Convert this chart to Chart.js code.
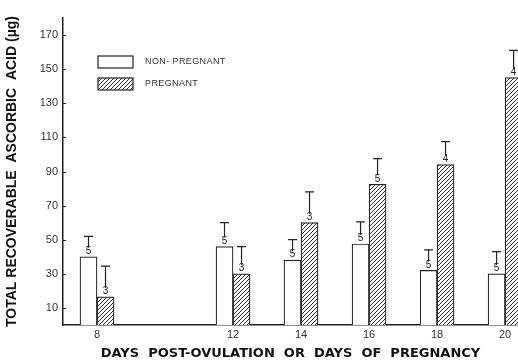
<!DOCTYPE html>
<html>
<head>
<meta charset="utf-8">
<script src="https://cdn.jsdelivr.net/npm/chart.js@4.4.1/dist/chart.umd.min.js"></script>
<style>
  html, body { margin: 0; padding: 0; background: #fff; }
  #wrap { width: 518px; height: 364px; }
</style>
</head>
<body>
<div id="wrap"><canvas id="c" width="518" height="364"></canvas></div>
<script>
// Days at which measurements were taken
const days = [8, 12, 14, 16, 18, 20];
// Mean total recoverable ascorbic acid (µg)
const nonPregnant = [40, 46, 38, 47.5, 32, 30];
const pregnant = [16.5, 30, 60, 82.5, 94, 145];
// Upper error bar length (µg)
const nonPregnantErr = [12, 14, 12, 13, 12, 13];
const pregnantErr = [18, 16, 18, 15, 13.5, 16];
// Number of animals per group
const nonPregnantN = [5, 5, 5, 5, 5, 5];
const pregnantN = [3, 3, 3, 5, 4, 4];
// Axis ticks
const xTicks = [8, 12, 14, 16, 18, 20];
const yTicks = [10, 30, 50, 70, 90, 110, 130, 150, 170];
const seriesNames = ['NON- PREGNANT', 'PREGNANT'];

const FONT = '"Liberation Sans", Arial, sans-serif';
const HEAVY = '"DejaVu Sans", "Liberation Sans", sans-serif';

function hatchPattern() {
  const s = 4;
  const c = document.createElement('canvas');
  c.width = s; c.height = s;
  const g = c.getContext('2d');
  g.fillStyle = '#fff';
  g.fillRect(0, 0, s, s);
  g.strokeStyle = '#333';
  g.lineWidth = 1;
  g.beginPath();
  g.moveTo(-1, s + 1); g.lineTo(s + 1, -1);
  g.moveTo(-1, 1); g.lineTo(1, -1);
  g.moveTo(s - 1, s + 1); g.lineTo(s + 1, s - 1);
  g.stroke();
  return g.createPattern(c, 'repeat');
}
const hatch = hatchPattern();

const toPoints = (vals) => vals.map((v, i) => ({ x: days[i], y: v }));

// Error bars with group sizes, inside-axis tick marks and the key
const annotate = {
  id: 'annotate',
  afterDatasetsDraw(chart) {
    const ctx = chart.ctx;
    const yScale = chart.scales.y;
    const errs = [nonPregnantErr, pregnantErr];
    const ns = [nonPregnantN, pregnantN];
    ctx.save();
    chart.data.datasets.forEach((ds, di) => {
      const meta = chart.getDatasetMeta(di);
      meta.data.forEach((bar, i) => {
        const x = bar.x;
        const top = bar.y;
        const cap = yScale.getPixelForValue(ds.data[i].y + errs[di][i]);
        ctx.fillStyle = '#222';
        ctx.font = '10px ' + FONT;
        ctx.textAlign = 'center';
        ctx.textBaseline = 'bottom';
        ctx.fillText(String(ns[di][i]), x, top - 0.5);
        const stemBottom = top - 9;
        ctx.strokeStyle = '#222';
        ctx.lineWidth = 1.2;
        ctx.beginPath();
        ctx.moveTo(x, Math.max(stemBottom, cap));
        ctx.lineTo(x, cap);
        ctx.moveTo(x - 4.5, cap);
        ctx.lineTo(x + 4.5, cap);
        ctx.stroke();
      });
    });
    // tick marks on the inner side of the y axis
    const left = chart.chartArea.left;
    ctx.strokeStyle = '#222';
    ctx.lineWidth = 1.2;
    ctx.beginPath();
    yTicks.forEach(v => {
      const y = Math.round(yScale.getPixelForValue(v)) + 0.5;
      ctx.moveTo(left, y);
      ctx.lineTo(left + 3, y);
    });
    ctx.stroke();
    // key
    const fills = ['#fff', hatch];
    const boxY = [56, 78];
    for (let k = 0; k < 2; k++) {
      ctx.fillStyle = fills[k];
      ctx.fillRect(98, boxY[k], 35, 12);
      ctx.strokeStyle = '#222';
      ctx.lineWidth = 1.2;
      ctx.strokeRect(98, boxY[k], 35, 12);
      ctx.fillStyle = '#333';
      ctx.font = '9px ' + FONT;
      if ('letterSpacing' in ctx) ctx.letterSpacing = '0.4px';
      ctx.textAlign = 'left';
      ctx.textBaseline = 'middle';
      ctx.fillText(seriesNames[k], 145, boxY[k] + 6);
      if ('letterSpacing' in ctx) ctx.letterSpacing = '0px';
    }
    ctx.restore();
  }
};

new Chart(document.getElementById('c'), {
  type: 'bar',
  data: {
    datasets: [
      {
        label: seriesNames[0],
        data: toPoints(nonPregnant),
        backgroundColor: '#fff',
        borderColor: '#222',
        borderWidth: 1.2,
        borderSkipped: 'bottom',
        barThickness: 17
      },
      {
        label: seriesNames[1],
        data: toPoints(pregnant),
        backgroundColor: hatch,
        borderColor: '#222',
        borderWidth: 1.2,
        borderSkipped: 'bottom',
        barThickness: 17
      }
    ]
  },
  options: {
    responsive: false,
    animation: false,
    devicePixelRatio: 1,
    layout: { padding: { top: 18, right: 0, left: 0, bottom: 0 } },
    plugins: {
      legend: { display: false },
      tooltip: { enabled: false }
    },
    scales: {
      x: {
        type: 'linear',
        offset: false,
        min: 7,
        max: 20.38,
        grid: { display: false, drawTicks: false, offset: false },
        border: { display: true, color: '#222', width: 1.5 },
        afterBuildTicks: (s) => { s.ticks = xTicks.map(v => ({ value: v })); },
        afterFit: (s) => { s.height = 39; },
        ticks: {
          color: '#333',
          font: { family: FONT, size: 11 },
          padding: 3,
          maxRotation: 0,
          autoSkip: false
        },
        title: {
          display: true,
          text: 'DAYS  POST-OVULATION  OR  DAYS  OF  PREGNANCY',
          color: '#111',
          font: { family: HEAVY, size: 13, weight: 'bold' },
          padding: { top: 0, bottom: 3 }
        }
      },
      y: {
        min: 0,
        max: 180,
        grid: { display: false, drawTicks: false },
        border: { display: true, color: '#222', width: 1.5 },
        afterBuildTicks: (s) => { s.ticks = yTicks.map(v => ({ value: v })); },
        afterFit: (s) => { s.width = 63; },
        ticks: {
          color: '#333',
          font: { family: FONT, size: 11 },
          padding: 5,
          autoSkip: false
        },
        title: {
          display: true,
          text: 'TOTAL RECOVERABLE  ASCORBIC  ACID (µg)',
          color: '#111',
          font: { family: FONT, size: 14, weight: 'bold' },
          padding: { top: 4, bottom: 0 }
        }
      }
    }
  },
  plugins: [annotate]
});
</script>
</body>
</html>
